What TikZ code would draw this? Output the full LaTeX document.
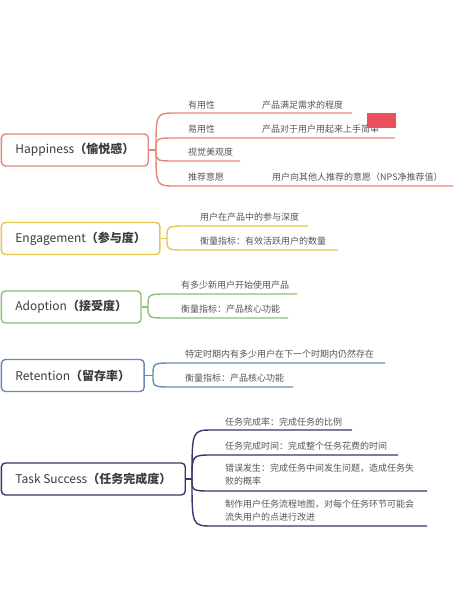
\documentclass[tikz,border=0pt]{standalone}
\usepackage{fontspec}
\setmainfont{Noto Sans CJK SC}
\usetikzlibrary{positioning}
\definecolor{HappyRed}{RGB}{227,135,122}
\definecolor{EngageGold}{RGB}{232,196,74}
\definecolor{AdoptGreen}{RGB}{138,192,120}
\definecolor{RetainBlue}{RGB}{104,138,180}
\definecolor{TaskNavy}{RGB}{58,54,102}
\definecolor{MaskRed}{RGB}{232,80,92}
\definecolor{LeafGray}{RGB}{85,85,85}
\definecolor{RootGray}{RGB}{60,60,60}

\begin{document}
\begin{tikzpicture}[x=1pt,y=-1pt,
    root/.style={draw=#1,line width=1.4pt,rounded corners=4pt,fill=white,
      minimum height=32pt,inner xsep=14pt,anchor=west,text=RootGray,
      font=\fontsize{12}{14}\selectfont},
    leaf/.style={anchor=west,inner sep=0pt,text=LeafGray,align=left,
      font=\fontsize{9}{13}\selectfont},
    branch/.style={draw=#1,line width=1.4pt}]
  \useasboundingbox (0,0) rectangle (461,600);

  % Happiness
  \node[root=HappyRed] (hap) at (0.7,150) {Happiness\textbf{（愉悦感）}};
  \coordinate (hapJ) at (156,150);
  \coordinate (hapS1) at (176,113); \coordinate (hapE1) at (352,113);
  \coordinate (hapS2) at (176,138); \coordinate (hapE2) at (395,138);
  \coordinate (hapS3) at (176,161); \coordinate (hapE3) at (240,161);
  \coordinate (hapS4) at (176,186); \coordinate (hapE4) at (453,186);
  \draw[branch=HappyRed] (hap.east) -- (hapJ);
  \foreach \i in {1,...,4}
    \draw[branch=HappyRed] (hapJ) .. controls (hapJ |- hapS\i) .. (hapS\i) -- (hapE\i);
  \node[leaf] (hapUse) at (188,105) {有用性};
  \node[leaf] (hapUseD) at (262,105) {产品满足需求的程度};
  \node[leaf] (hapEase) at (188,129) {易用性};
  \node[leaf] (hapEaseD) at (262,129) {产品对于用户用起来上手简单};
  \node[leaf] (hapLook) at (188,152) {视觉美观度};
  \node[leaf] (hapRec) at (188,177) {推荐意愿};
  \node[leaf] (hapRecD) at (272,177) {用户向其他人推荐的意愿（NPS净推荐值）};
  \node[fill=MaskRed,inner sep=0pt,minimum width=29pt,minimum height=15pt,
    anchor=north west] (mask) at (367,113) {};

  % Engagement
  \node[root=EngageGold] (eng) at (0.7,238.5) {Engagement\textbf{（参与度）}};
  \coordinate (engJ) at (167,238.5);
  \coordinate (engS1) at (187,226); \coordinate (engE1) at (308,226);
  \coordinate (engS2) at (187,250); \coordinate (engE2) at (338,250);
  \draw[branch=EngageGold] (eng.east) -- (engJ);
  \foreach \i in {1,2}
    \draw[branch=EngageGold] (engJ) .. controls (engJ |- engS\i) .. (engS\i) -- (engE\i);
  \node[leaf] (engDepth) at (200,217) {用户在产品中的参与深度};
  \node[leaf] (engMetric) at (200,241) {衡量指标：有效活跃用户的数量};

  % Adoption
  \node[root=AdoptGreen] (ado) at (0.7,307) {Adoption\textbf{（接受度）}};
  \coordinate (adoJ) at (148,307);
  \coordinate (adoS1) at (168,294); \coordinate (adoE1) at (297,294);
  \coordinate (adoS2) at (168,318); \coordinate (adoE2) at (288,318);
  \draw[branch=AdoptGreen] (ado.east) -- (adoJ);
  \foreach \i in {1,2}
    \draw[branch=AdoptGreen] (adoJ) .. controls (adoJ |- adoS\i) .. (adoS\i) -- (adoE\i);
  \node[leaf] (adoNew) at (181,285) {有多少新用户开始使用产品};
  \node[leaf] (adoMetric) at (181,309) {衡量指标：产品核心功能};

  % Retention
  \node[root=RetainBlue] (ret) at (0.7,375.5) {Retention\textbf{（留存率）}};
  \coordinate (retJ) at (153,375.5);
  \coordinate (retS1) at (173,363); \coordinate (retE1) at (385,363);
  \coordinate (retS2) at (173,387); \coordinate (retE2) at (293,387);
  \draw[branch=RetainBlue] (ret.east) -- (retJ);
  \foreach \i in {1,2}
    \draw[branch=RetainBlue] (retJ) .. controls (retJ |- retS\i) .. (retS\i) -- (retE\i);
  \node[leaf] (retKeep) at (185,354) {特定时期内有多少用户在下一个时期内仍然存在};
  \node[leaf] (retMetric) at (185,378) {衡量指标：产品核心功能};

  % Task Success
  \node[root=TaskNavy] (task) at (0.7,479) {Task Success\textbf{（任务完成度）}};
  \coordinate (taskJ) at (192,479);
  \coordinate (taskS1) at (213,430); \coordinate (taskE1) at (352,430);
  \coordinate (taskS2) at (213,455); \coordinate (taskE2) at (398,455);
  \coordinate (taskS3) at (213,491); \coordinate (taskE3) at (427,491);
  \coordinate (taskS4) at (213,526); \coordinate (taskE4) at (427,526);
  \draw[branch=TaskNavy] (task.east) -- (taskJ);
  \foreach \i in {1,...,4}
    \draw[branch=TaskNavy] (taskJ) .. controls (taskJ |- taskS\i) .. (taskS\i) -- (taskE\i);
  \node[leaf] (taskRate) at (225,422) {任务完成率：完成任务的比例};
  \node[leaf] (taskTime) at (225,446) {任务完成时间：完成整个任务花费的时间};
  \node[leaf] (taskErr) at (225,475) {错误发生：完成任务中间发生问题，造成任务失\\败的概率};
  \node[leaf] (taskMap) at (225,511) {制作用户任务流程地图，对每个任务环节可能会\\流失用户的点进行改进};
\end{tikzpicture}
\end{document}
